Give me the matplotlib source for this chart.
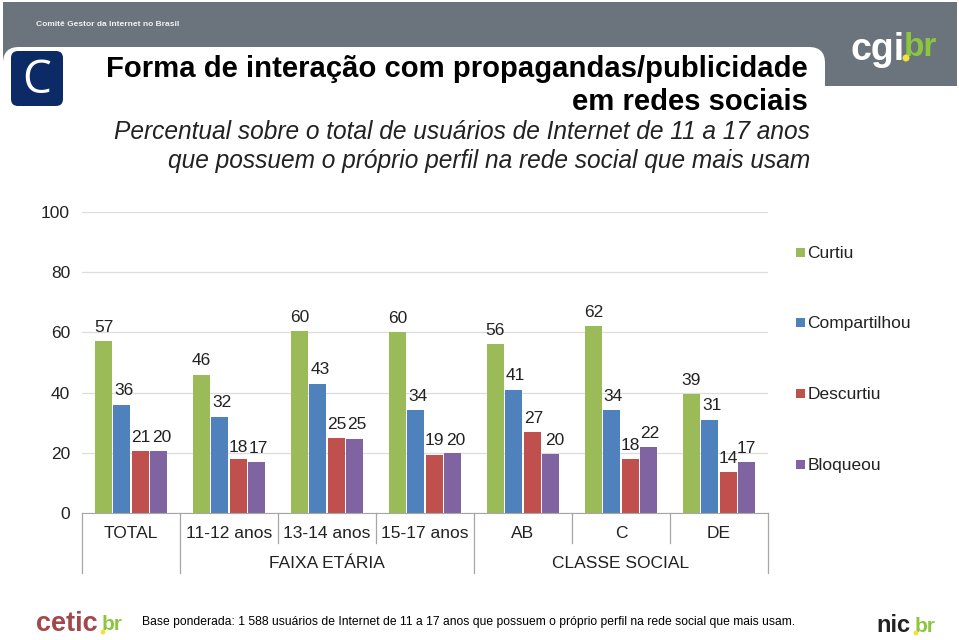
import numpy as np
import matplotlib
matplotlib.use("Agg")
import matplotlib.pyplot as plt
from matplotlib.patches import Rectangle, FancyBboxPatch, Circle

plt.rcParams['font.family'] = ['Liberation Sans', 'DejaVu Sans']

categories = ["TOTAL", "11-12 anos", "13-14 anos", "15-17 anos", "AB", "C", "DE"]
series_names = ["Curtiu", "Compartilhou", "Descurtiu", "Bloqueou"]
curtiu = [57.1, 46, 60.4, 60, 56.2, 62.2, 39.4]
compartilhou = [36, 32, 43, 34.2, 41, 34.2, 31]
descurtiu = [20.6, 17.9, 25, 19.4, 27, 18, 13.6]
bloqueou = [20.5, 17, 24.5, 20, 19.6, 22, 17]
curtiu_lab = [57, 46, 60, 60, 56, 62, 39]
compartilhou_lab = [36, 32, 43, 34, 41, 34, 31]
descurtiu_lab = [21, 18, 25, 19, 27, 18, 14]
bloqueou_lab = [20, 17, 25, 20, 20, 22, 17]
yticks = [0, 20, 40, 60, 80, 100]

colors = ["#9BBB59", "#4F81BD", "#C0504D", "#8064A2"]
W, H = 959, 640
GREY = "#6B747C"
BR_GREEN = "#8CC63F"
DOT = "#F2E23A"

fig = plt.figure(figsize=(W / 100, H / 100), dpi=100)

# page layer in pixel coordinates, y going down
bg = fig.add_axes([0, 0, 1, 1])
bg.set_xlim(0, W)
bg.set_ylim(H, 0)
bg.axis("off")

bg.add_patch(Rectangle((3, 2), 954, 84, fc=GREY, ec="none"))
bg.add_patch(FancyBboxPatch((3, 47), 822, 80, boxstyle="round,pad=0,rounding_size=16", fc="white", ec="none"))
bg.add_patch(Rectangle((0, 86), W, 40, fc="white", ec="none"))
bg.add_patch(FancyBboxPatch((11, 51), 52, 55, boxstyle="round,pad=0,rounding_size=7", fc="#0C2A66", ec="none"))
bg.text(37, 81, "C", color="white", fontsize=33, ha="center", va="center", family="Open Sans")
bg.text(36, 24, "Comitê Gestor da Internet no Brasil", color="#F2F2F2", fontsize=6.0, fontweight="bold", ha="left", va="center")

bg.text(808, 69, "Forma de interação com propagandas/publicidade", fontsize=21.1, fontweight="bold", ha="right", va="center")
bg.text(808, 102, "em redes sociais", fontsize=21.1, fontweight="bold", ha="right", va="center")
bg.text(810, 132, "Percentual sobre o total de usuários de Internet de 11 a 17 anos", fontsize=17.65, style="italic", ha="right", va="center", color="#222222")
bg.text(810, 161, "que possuem o próprio perfil na rede social que mais usam", fontsize=17.65, style="italic", ha="right", va="center", color="#222222")

# logos as text, dots drawn on top
bg.text(851, 50, "cgi", color="white", fontsize=27, fontweight="bold", ha="left", va="center")
bg.text(904, 47, "br", color=BR_GREEN, fontsize=24, fontweight="bold", ha="left", va="center")
bg.add_patch(Circle((906, 58), 3.5, fc=DOT, ec="none", zorder=5))
bg.text(36, 624, "cetic", color="#A4474C", fontsize=19.5, fontweight="bold", ha="left", va="center")
bg.text(102, 625, "br", color=BR_GREEN, fontsize=15, fontweight="bold", ha="left", va="center")
bg.add_patch(Circle((103, 632), 2.5, fc=DOT, ec="none", zorder=5))
bg.text(876, 625, "nic", color="#222222", fontsize=17, fontweight="bold", ha="left", va="center")
bg.text(915, 626, "br", color=BR_GREEN, fontsize=15, fontweight="bold", ha="left", va="center")
bg.add_patch(Circle((916, 633), 2.5, fc=DOT, ec="none", zorder=5))
bg.text(142, 622, "Base ponderada: 1 588 usuários de Internet de 11 a 17 anos que possuem o próprio perfil na rede social que mais usam.", fontsize=8.75, ha="left", va="center")

# chart
ax = fig.add_axes([82 / W, 1 - 513 / H, (768 - 82) / W, (513 - 212) / H])
ax.patch.set_alpha(0)
ax.set_xlim(0, len(categories))
ax.set_ylim(0, 100)
for side in ["top", "right", "left"]:
    ax.spines[side].set_visible(False)
ax.spines["bottom"].set_color("#A6A6A6")
ax.set_yticks(yticks)
ax.tick_params(axis="y", length=0, labelsize=12.5, pad=8.6, labelcolor="#222222")
ax.set_xticks([])
ax.grid(axis="y", color="#DDDDDD", lw=0.9)
ax.set_axisbelow(True)

values = [curtiu, compartilhou, descurtiu, bloqueou]
labels = [curtiu_lab, compartilhou_lab, descurtiu_lab, bloqueou_lab]
bar_w = 0.1875
x = np.arange(len(categories)) + 0.125

# label nudges in px, x right / y down
dx_px = [[1, 2, 1, 3], [0, 2, 0, 2], [0, 2, 1, 2.5], [0, 2, 0, 3], [0, 1, 2, 4], [0, 1, 0, 1.5], [0, 2, 0, 0]]
dy_px = {(1, 2): 2.5, (2, 3): -1.5, (3, 3): 1.5}

for s, (vals, labs, col) in enumerate(zip(values, labels, colors)):
    ax.bar(x + s * bar_w + bar_w / 2, vals, bar_w * 0.94, color=col)
    for g, (v, lab) in enumerate(zip(vals, labs)):
        off_x = dx_px[g][s]
        off_y = 13.7 - dy_px.get((g, s), 0)
        ax.annotate(str(lab), (x[g] + s * bar_w + bar_w / 2, v), xytext=(off_x * 0.72, off_y * 0.72),
                    textcoords="offset points", ha="center", va="center", fontsize=12.5, color="#222222")

# category table under the axis
to_px = lambda i: 82 + 98 * i
for i, cat in enumerate(categories):
    bg.text(to_px(i + 0.5), 534, cat, fontsize=12.5, ha="center", va="center", color="#222222")
for i in range(8):
    tall = i in (0, 1, 4, 7)
    bg.plot([to_px(i)] * 2, [513, 573 if tall else 543], color="#A6A6A6", lw=0.9)
bg.text(to_px(2.5), 564, "FAIXA ETÁRIA", fontsize=12.5, ha="center", va="center", color="#222222")
bg.text(to_px(5.5), 564, "CLASSE SOCIAL", fontsize=12.5, ha="center", va="center", color="#222222")

# legend
for name, col, ly in zip(series_names, colors, [252, 322, 393, 464]):
    bg.add_patch(Rectangle((795.5, ly - 4.5), 9, 9, fc=col, ec="none"))
    bg.text(807.5, ly + 1.3, name, fontsize=12.5, ha="left", va="center", color="#222222")

fig.savefig("out.png", dpi=100)
